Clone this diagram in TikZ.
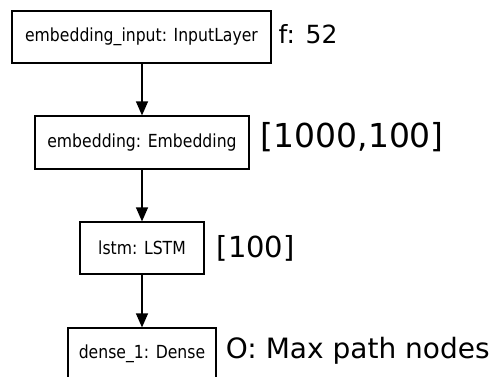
\documentclass[tikz,border=0pt]{standalone}
\usepackage{fontspec}
\setmainfont{DejaVu Sans}
\newfontfamily\layerfont[FakeStretch=0.87]{DejaVu Sans}
\usetikzlibrary{arrows.meta}
\tikzset{
  layer/.style={draw=black, line width=1.2pt, fill=white, inner sep=0pt,
    font=\layerfont\fontsize{18}{21}\selectfont},
  flow/.style={draw=black, line width=1.2pt,
    -{Triangle[length=14pt,width=12pt]}},
  note/.style={anchor=base west, inner sep=0pt}
}
\begin{document}
\begin{tikzpicture}[x=1pt, y=-1pt]
  \useasboundingbox (0,0) rectangle (489,376);
  \fill[white] (0,0) rectangle (489,376);

  % layer boxes
  \node[layer, minimum width=259pt, minimum height=52pt] (inp) at (141.5,37) {embedding\_input: InputLayer};
  \node[layer, minimum width=214pt, minimum height=53pt] (emb) at (142,142.5) {embedding: Embedding};
  \node[layer, minimum width=124pt, minimum height=52pt] (lstm) at (142,248) {lstm: LSTM};
  \node[layer, minimum width=148pt, minimum height=52pt] (dense) at (142,354) {dense\_1: Dense};

  % connectors
  \draw[flow] (inp.south -| emb.north) -- (emb.north);
  \draw[flow] (emb) -- (lstm);
  \draw[flow] (lstm) -- (dense);

  % side annotations
  \node[note, font=\fontsize{25}{30}\selectfont] (fin) at (278.5,43.3) {f: 52};
  \node[note, font=\fontsize{33}{40}\selectfont] (fdim) at (260.5,147.3) {[1000,100]};
  \node[note, font=\fontsize{29}{35}\selectfont] (fl) at (216.5,257.3) {[100]};
  \node[note, font=\fontsize{28}{34}\selectfont] (fout) at (225.7,358.3) {O: Max path nodes};
\end{tikzpicture}
\end{document}
